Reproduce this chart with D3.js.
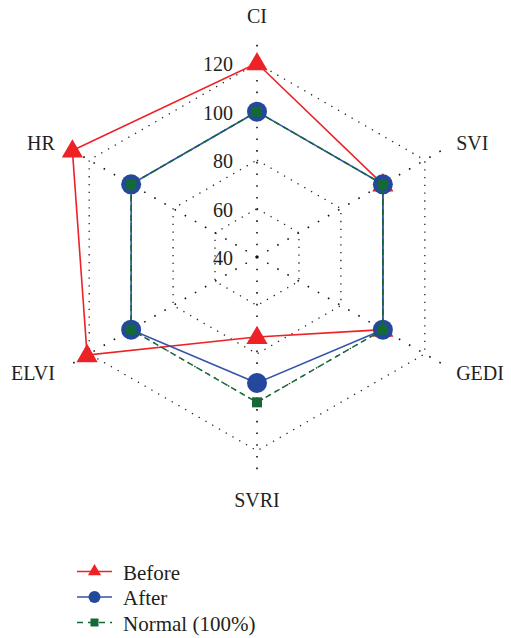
<!DOCTYPE html>
<html><head><meta charset="utf-8">
<script src="https://cdn.jsdelivr.net/npm/d3@7"></script>
<style>body{margin:0;background:#fff}svg{display:block}text{font-family:"Liberation Serif","DejaVu Serif",serif;fill:#231f20}</style>
</head><body>
<script>
const categories = ["CI","SVI","GEDI","SVRI","ELVI","HR"];
const before = [120, 100, 100, 73, 121, 128];
const after = [100, 100, 100, 92, 100, 100];
const normal = [100, 100, 100, 100, 100, 100];
const tickValues = [40, 60, 80, 100, 120];
const seriesNames = ["Before", "After", "Normal (100%)"];

const W = 511, H = 638, cx = 257, cy = 257;
const svg = d3.select("body").append("svg").attr("width", W).attr("height", H);
const r = d3.scaleLinear().domain([40, 130]).range([0, 218]);
const ang = d3.scalePoint().domain(categories).range([0, 2 * Math.PI * (categories.length - 1) / categories.length]);
const pt = (c, v) => { const a = ang(c); return [cx + r(v) * Math.sin(a), cy - r(v) * Math.cos(a)]; };

const g = svg.append("g");
// grid rings
tickValues.slice(1).forEach(t => {
  g.append("path").attr("d", d3.line()(categories.map(c => pt(c, t))) + "Z")
    .attr("fill", "none").attr("stroke", "#222").attr("stroke-width", 1.3)
    .attr("stroke-dasharray", "1.3 6.5").attr("stroke-linecap", "butt");
});
// spokes
categories.forEach(c => {
  const [x, y] = pt(c, 130);
  g.append("line").attr("x1", cx).attr("y1", cy).attr("x2", x).attr("y2", y)
    .attr("stroke", "#111").attr("stroke-width", 1.6).attr("stroke-dasharray", "1.6 10.1");
});
// tick labels
tickValues.forEach(t => {
  g.append("text").attr("x", 233).attr("y", cy - r(t) + 1).attr("text-anchor", "end")
    .attr("dominant-baseline", "central").attr("font-size", 20).text(t);
});
// category labels
categories.forEach(c => {
  const a = ang(c), s = Math.sin(a);
  const vert = Math.abs(s) < 0.01;
  const rr = vert ? 242 : 230;
  const x = cx + rr * s, y = cy - rr * Math.cos(a);
  g.append("text").attr("x", vert ? x : (s > 0 ? x : x - 3)).attr("y", y + 1)
    .attr("text-anchor", vert ? "middle" : (s > 0 ? "start" : "end"))
    .attr("dominant-baseline", "central").attr("font-size", 20).text(c);
});

const red = "#ed2227", blue = "#24489c", blueLine = "#3353aa", green = "#146936";
const tri = d3.symbol().type(d3.symbolTriangle);
function series(vals, color, lineColor, dash, marker) {
  const pts = categories.map((c, i) => pt(c, vals[i]));
  g.append("path").attr("d", d3.line()(pts) + "Z").attr("fill", "none")
    .attr("stroke", lineColor).attr("stroke-width", 1.6).attr("stroke-dasharray", dash);
  pts.forEach(p => marker(g, p[0], p[1], color, false));
}
const mk = {
  tri: (sel, x, y, col, small) => sel.append("path").attr("d", tri.size(small ? 75 : 195)())
      .attr("transform", `translate(${x},${y + (small ? 0 : 1)})`).attr("fill", col),
  circ: (sel, x, y, col, small) => sel.append("circle").attr("cx", x).attr("cy", y).attr("r", small ? 6 : 10).attr("fill", col),
  sq: (sel, x, y, col, small) => { const s = small ? 8 : 10; sel.append("rect").attr("x", x - s / 2).attr("y", y - s / 2).attr("width", s).attr("height", s).attr("fill", col); }
};
series(before, red, red, null, mk.tri);
series(after, blue, blueLine, null, mk.circ);
series(normal, green, green, "6 4", mk.sq);

// legend
const leg = [[red, red, null, mk.tri], [blue, blueLine, null, mk.circ], [green, green, "6 5", mk.sq]];
leg.forEach((d, i) => {
  const y = 571.5 + i * 25.5;
  svg.append("line").attr("x1", 77).attr("x2", 112).attr("y1", y).attr("y2", y)
    .attr("stroke", d[1]).attr("stroke-width", 1.6).attr("stroke-dasharray", d[2]);
  d[3](svg, 94.5, y, d[0], true);
  svg.append("text").attr("x", 123).attr("y", y + 1).attr("dominant-baseline", "central")
    .attr("font-size", 21).text(seriesNames[i]);
});
</script>
</body></html>
